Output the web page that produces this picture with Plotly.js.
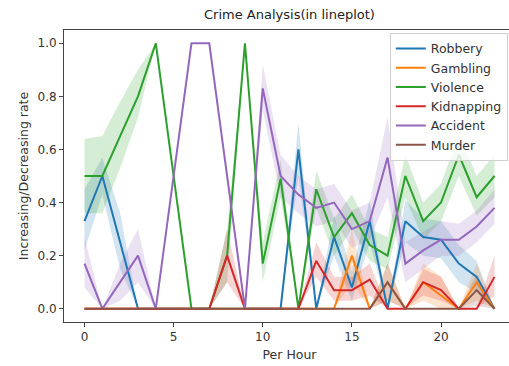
<!DOCTYPE html>
<html><head><meta charset="utf-8">
<script src="https://cdn.plot.ly/plotly-3.0.1.min.js"></script>
<style>html,body{margin:0;padding:0;overflow:hidden;background:#fff}</style>
</head><body><div id="chart" style="width:520px;height:366px"></div>
<script>
const hours = [0,1,2,3,4,5,6,7,8,9,10,11,12,13,14,15,16,17,18,19,20,21,22,23];
const crimeNames = ["Robbery","Gambling","Violence","Kidnapping","Accident","Murder"];

const robbery    = [0.33,0.50,0.25,0,0,0,0,0,0,0,0,0,0.60,0,0.27,0.08,0.33,0,0.33,0.27,0.26,0.17,0.12,0];
const robberyLo  = [0.22,0.43,0.15,0,0,0,0,0,0,0,0,0,0.50,0,0.20,0.03,0.25,0,0.25,0.20,0.19,0.10,0.06,0];
const robberyHi  = [0.45,0.57,0.36,0,0,0,0,0,0,0,0,0,0.70,0,0.35,0.14,0.41,0,0.41,0.34,0.33,0.24,0.18,0];

const gambling   = [0,0,0,0,0,0,0,0,0,0,0,0,0,0,0,0.20,0,0.10,0,0.10,0.05,0,0.10,0];
const gamblingLo = [0,0,0,0,0,0,0,0,0,0,0,0,0,0,0,0.10,0,0.03,0,0.03,0,0,0.03,0];
const gamblingHi = [0,0,0,0,0,0,0,0,0,0,0,0,0,0,0,0.30,0,0.17,0,0.17,0.12,0,0.17,0];

const violence   = [0.50,0.50,0.65,0.80,1.0,0.50,0,0,0.20,1.0,0.17,0.49,0,0.45,0.27,0.36,0.24,0.20,0.50,0.33,0.40,0.58,0.42,0.50];
const violenceLo = [0.36,0.36,0.53,0.72,1.0,0.50,0,0,0.10,1.0,0.10,0.42,0,0.38,0.20,0.30,0.18,0.15,0.42,0.26,0.33,0.50,0.35,0.42];
const violenceHi = [0.64,0.65,0.78,0.90,1.0,0.50,0,0,0.30,1.0,0.25,0.56,0,0.52,0.34,0.43,0.30,0.27,0.58,0.40,0.47,0.66,0.50,0.58];

const kidnapping   = [0,0,0,0,0,0,0,0,0.20,0,0,0,0,0.18,0.07,0.07,0.11,0,0,0.10,0.07,0,0,0.12];
const kidnappingLo = [0,0,0,0,0,0,0,0,0.10,0,0,0,0,0.12,0.03,0.03,0.05,0,0,0.05,0.03,0,0,0.05];
const kidnappingHi = [0,0,0,0,0,0,0,0,0.30,0,0,0,0,0.25,0.12,0.12,0.17,0,0,0.15,0.12,0,0,0.20];

const accident   = [0.17,0,0.10,0.20,0,0.50,1.0,1.0,0.50,0,0.83,0.50,0.43,0.38,0.40,0.30,0.33,0.57,0.17,0.22,0.26,0.26,0.31,0.38];
const accidentLo = [0.08,0,0.03,0.10,0,0.50,1.0,1.0,0.50,0,0.75,0.42,0.36,0.31,0.33,0.23,0.26,0.42,0.10,0.15,0.20,0.20,0.25,0.32];
const accidentHi = [0.27,0,0.17,0.30,0,0.50,1.0,1.0,0.50,0,0.92,0.58,0.50,0.45,0.47,0.37,0.40,0.72,0.25,0.29,0.33,0.32,0.37,0.45];

const murder   = [0,0,0,0,0,0,0,0,0,0,0,0,0,0,0,0,0,0.10,0,0,0,0,0.07,0];
const murderLo = [0,0,0,0,0,0,0,0,0,0,0,0,0,0,0,0,0,0.03,0,0,0,0,0.01,0];
const murderHi = [0,0,0,0,0,0,0,0,0,0,0,0,0,0,0,0,0,0.17,0,0,0,0,0.13,0];

const seriesVals = [robbery,gambling,violence,kidnapping,accident,murder];
const seriesLo = [robberyLo,gamblingLo,violenceLo,kidnappingLo,accidentLo,murderLo];
const seriesHi = [robberyHi,gamblingHi,violenceHi,kidnappingHi,accidentHi,murderHi];
const colors = ["#1f77b4","#ff7f0e","#2ca02c","#d62728","#9467bd","#8c564b"];
const fills = ["rgba(31,119,180,0.2)","rgba(255,127,14,0.2)","rgba(44,160,44,0.2)","rgba(214,39,40,0.2)","rgba(148,103,189,0.2)","rgba(140,86,75,0.2)"];

const traces = [];
crimeNames.forEach((n,i)=>{
  traces.push({x:hours,y:seriesLo[i],type:"scatter",mode:"lines",line:{width:0,color:colors[i]},showlegend:false,hoverinfo:"skip"});
  traces.push({x:hours,y:seriesHi[i],type:"scatter",mode:"lines",line:{width:0,color:colors[i]},fill:"tonexty",fillcolor:fills[i],showlegend:false,hoverinfo:"skip"});
});
crimeNames.forEach((n,i)=>{
  traces.push({x:hours,y:seriesVals[i],type:"scatter",mode:"lines",name:n,line:{width:2,color:colors[i]}});
});

const font = {family:"DejaVu Sans, sans-serif",color:"#333"};
const layout = {
  width:520,height:366,
  margin:{l:64,r:5,t:30,b:44},
  paper_bgcolor:"#fff",plot_bgcolor:"#fff",
  font:font,
  showlegend:true,
  title:{text:"Crime Analysis(in lineplot)",font:{family:font.family,size:13,color:"#222"},xref:"paper",x:0.5,xanchor:"center",yref:"container",y:1-14/366,yanchor:"middle"},
  xaxis:{range:[-1.15,24.15],tickmode:"linear",tick0:0,dtick:5,showgrid:false,zeroline:false,
    showline:true,linecolor:"#444",linewidth:1,mirror:true,ticks:"outside",ticklen:4,tickcolor:"#444",
    tickfont:{size:12,color:"#333"},title:{text:"Per Hour",font:{size:12.5,color:"#333"},standoff:6}},
  yaxis:{range:[-0.05,1.05],tickmode:"array",tickvals:[0,0.2,0.4,0.6,0.8,1.0],ticktext:["0.0","0.2","0.4","0.6","0.8","1.0"],
    showgrid:false,zeroline:false,showline:true,linecolor:"#444",linewidth:1,ticks:"outside",ticklen:4,tickcolor:"#444",
    tickfont:{size:12,color:"#333"},title:{text:"Increasing/Decreasing rate",font:{size:12.5,color:"#333"},standoff:6}},
  legend:{x:0.984,xanchor:"right",y:0.99,yanchor:"top",traceorder:"normal",bgcolor:"rgba(255,255,255,0.8)",bordercolor:"#d0d0d0",borderwidth:1,
    font:{size:12.5,color:"#333"},itemwidth:30}
};
Plotly.newPlot("chart",traces,layout,{displayModeBar:false,staticPlot:true});
</script></body></html>
